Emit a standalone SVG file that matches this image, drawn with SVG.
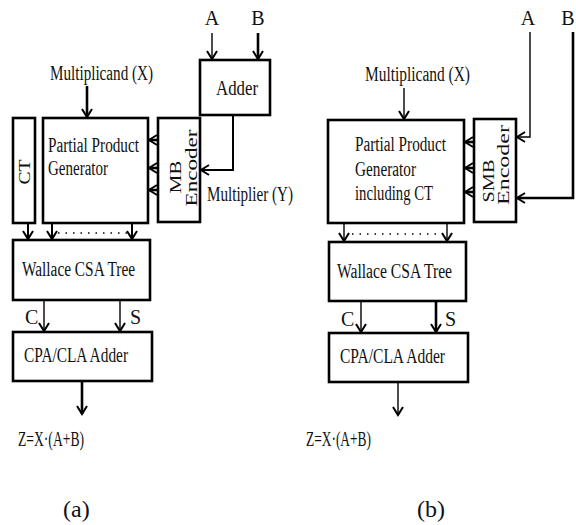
<svg xmlns="http://www.w3.org/2000/svg" width="576" height="525" viewBox="0 0 576 525">
<style>
.box{fill:#fff;stroke:#000;stroke-width:2.6}
.t{font-family:"Liberation Serif","Times New Roman",serif;font-size:20px;fill:#111}
.cap{font-family:"Liberation Serif","Times New Roman",serif;font-size:24px;fill:#111}
.th{fill:none;stroke:#000;stroke-width:1.4}
.tk{fill:none;stroke:#000;stroke-width:2.6}
.md{fill:none;stroke:#000;stroke-width:2}
.dot{fill:none;stroke:#000;stroke-width:1.6;stroke-dasharray:1.5 6}
</style>
<defs>
<marker id="ah" markerUnits="userSpaceOnUse" markerWidth="14" markerHeight="14" refX="10" refY="7" orient="auto">
<path d="M2,2 L10,7 L2,12" fill="none" stroke="#000" stroke-width="2"/>
</marker>
</defs>
<rect width="576" height="525" fill="#fff"/>

<!-- (a) nodes -->
<g id="a-adder"><rect class="box" x="200" y="60" width="70" height="55"/><text class="t" x="216" y="95" textLength="42" lengthAdjust="spacingAndGlyphs">Adder</text></g>
<g id="a-mb"><rect class="box" x="158" y="118" width="42" height="104"/>
<text class="t" transform="translate(181,177) rotate(-90) scale(1,0.85)" text-anchor="middle" font-size="21" textLength="33" lengthAdjust="spacingAndGlyphs">MB</text>
<text class="t" transform="translate(197,168) rotate(-90) scale(1,0.85)" text-anchor="middle" font-size="21" textLength="77" lengthAdjust="spacingAndGlyphs">Encoder</text></g>
<g id="a-ppg"><rect class="box" x="43" y="118" width="105" height="105"/>
<text class="t" x="48" y="152" textLength="91" lengthAdjust="spacingAndGlyphs">Partial Product</text>
<text class="t" x="48" y="175" textLength="60" lengthAdjust="spacingAndGlyphs">Generator</text></g>
<g id="a-ct"><rect class="box" x="13" y="118" width="22" height="105"/>
<text class="t" transform="translate(30,172) rotate(-90) scale(1,0.85)" text-anchor="middle" font-size="20" textLength="25" lengthAdjust="spacingAndGlyphs">CT</text></g>
<g id="a-wallace"><rect class="box" x="13" y="240" width="137" height="60"/>
<text class="t" x="22" y="276" textLength="113" lengthAdjust="spacingAndGlyphs">Wallace CSA Tree</text></g>
<g id="a-cpa"><rect class="box" x="13" y="332" width="139" height="49"/>
<text class="t" x="24" y="362" textLength="104" lengthAdjust="spacingAndGlyphs">CPA/CLA Adder</text></g>

<!-- (b) nodes -->
<g id="b-smb"><rect class="box" x="474" y="119" width="42" height="103"/>
<text class="t" transform="translate(494,181) rotate(-90) scale(1,0.85)" text-anchor="middle" font-size="21" textLength="43" lengthAdjust="spacingAndGlyphs">SMB</text>
<text class="t" transform="translate(509,165) rotate(-90) scale(1,0.85)" text-anchor="middle" font-size="21" textLength="80" lengthAdjust="spacingAndGlyphs">Encoder</text></g>
<g id="b-ppg"><rect class="box" x="328" y="120" width="136" height="103"/>
<text class="t" x="355" y="151" textLength="91" lengthAdjust="spacingAndGlyphs">Partial Product</text>
<text class="t" x="355" y="176" textLength="61" lengthAdjust="spacingAndGlyphs">Generator</text>
<text class="t" x="355" y="200" textLength="78" lengthAdjust="spacingAndGlyphs">including CT</text></g>
<g id="b-wallace"><rect class="box" x="329" y="242" width="137" height="59"/>
<text class="t" x="337" y="278" textLength="115" lengthAdjust="spacingAndGlyphs">Wallace CSA Tree</text></g>
<g id="b-cpa"><rect class="box" x="329" y="333" width="139" height="49"/>
<text class="t" x="340" y="363" textLength="105" lengthAdjust="spacingAndGlyphs">CPA/CLA Adder</text></g>

<!-- labels -->
<g id="labels">
<text class="t" x="212" y="25" text-anchor="middle">A</text>
<text class="t" x="258" y="25" text-anchor="middle">B</text>
<text class="t" x="50" y="80" textLength="103" lengthAdjust="spacingAndGlyphs">Multiplicand (X)</text>
<text class="t" x="207" y="201" textLength="86" lengthAdjust="spacingAndGlyphs">Multiplier (Y)</text>
<text class="t" x="25" y="324">C</text>
<text class="t" x="130" y="324">S</text>
<text class="t" x="18" y="446" textLength="66" lengthAdjust="spacingAndGlyphs">Z=X·(A+B)</text>
<text class="cap" x="63" y="517">(a)</text>

<text class="t" x="528" y="25" text-anchor="middle">A</text>
<text class="t" x="568" y="25" text-anchor="middle">B</text>
<text class="t" x="365" y="81" textLength="105" lengthAdjust="spacingAndGlyphs">Multiplicand (X)</text>
<text class="t" x="341" y="326">C</text>
<text class="t" x="445" y="326">S</text>
<text class="t" x="306" y="446" textLength="65" lengthAdjust="spacingAndGlyphs">Z=X·(A+B)</text>
<text class="cap" x="417" y="517">(b)</text>
</g>

<!-- connectors -->
<g id="connectors">
<line class="th" x1="212" y1="33" x2="212" y2="59" marker-end="url(#ah)"/>
<line class="tk" x1="258" y1="33" x2="258" y2="59" marker-end="url(#ah)"/>
<polyline class="md" points="233,115 233,170 201,170" marker-end="url(#ah)"/>
<line class="tk" x1="87" y1="86" x2="87" y2="117" marker-end="url(#ah)"/>
<line class="tk" x1="157" y1="140" x2="149" y2="140" marker-end="url(#ah)"/>
<line class="tk" x1="157" y1="168" x2="149" y2="168" marker-end="url(#ah)"/>
<line class="tk" x1="157" y1="190" x2="149" y2="190" marker-end="url(#ah)"/>
<line class="md" x1="28" y1="223" x2="28" y2="239" marker-end="url(#ah)"/>
<line class="md" x1="52" y1="223" x2="52" y2="239" marker-end="url(#ah)"/>
<line class="md" x1="132" y1="223" x2="132" y2="239" marker-end="url(#ah)"/>
<line class="dot" x1="58" y1="233" x2="127" y2="233"/>
<line class="th" x1="44" y1="300" x2="44" y2="331" marker-end="url(#ah)"/>
<line class="th" x1="120" y1="300" x2="120" y2="331" marker-end="url(#ah)"/>
<line class="tk" x1="82" y1="381" x2="82" y2="414" marker-end="url(#ah)"/>

<polyline class="th" points="530,32 530,137 517,137" marker-end="url(#ah)"/>
<polyline class="tk" points="573,32 573,198 517,198" marker-end="url(#ah)"/>
<line class="th" x1="404" y1="88" x2="404" y2="119" marker-end="url(#ah)"/>
<line class="tk" x1="473" y1="142" x2="465" y2="142" marker-end="url(#ah)"/>
<line class="tk" x1="473" y1="168" x2="465" y2="168" marker-end="url(#ah)"/>
<line class="tk" x1="473" y1="192" x2="465" y2="192" marker-end="url(#ah)"/>
<line class="th" x1="344" y1="223" x2="344" y2="241" marker-end="url(#ah)"/>
<line class="th" x1="447" y1="223" x2="447" y2="241" marker-end="url(#ah)"/>
<line class="dot" x1="352" y1="234" x2="440" y2="234"/>
<line class="th" x1="361" y1="301" x2="361" y2="332" marker-end="url(#ah)"/>
<line class="tk" x1="436" y1="301" x2="436" y2="332" marker-end="url(#ah)"/>
<line class="th" x1="398" y1="382" x2="398" y2="415" marker-end="url(#ah)"/>
</g>
</svg>
